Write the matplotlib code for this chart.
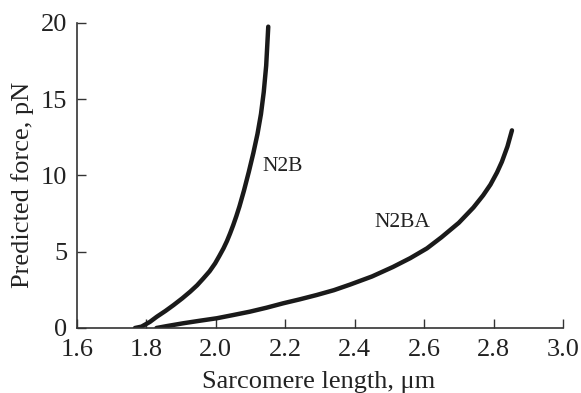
import matplotlib
matplotlib.use("Agg")
import matplotlib.pyplot as plt

# N2B curve
n2b_x = [1.767, 1.786, 1.810, 1.830, 1.855, 1.878, 1.903, 1.926, 1.946, 1.964, 1.982,
         1.998, 2.010, 2.022, 2.032, 2.041, 2.050, 2.059, 2.068, 2.081,
         2.095, 2.108, 2.120, 2.130, 2.138, 2.145, 2.151]
n2b_y = [0.0, 0.09, 0.40, 0.74, 1.12, 1.50, 1.94, 2.38, 2.80, 3.25, 3.72,
         4.24, 4.72, 5.22, 5.70, 6.20, 6.74, 7.33, 7.97, 9.01,
         10.24, 11.47, 12.73, 14.03, 15.47, 17.20, 19.76]

# N2BA curve
n2ba_x = [1.829, 1.860, 1.906, 1.955, 2.003, 2.050, 2.098, 2.146, 2.194, 2.242,
          2.290, 2.340, 2.387, 2.450, 2.510, 2.560, 2.608, 2.650, 2.700, 2.742,
          2.770, 2.791, 2.810, 2.824, 2.840, 2.853]
n2ba_y = [0.0, 0.13, 0.31, 0.48, 0.64, 0.85, 1.07, 1.33, 1.62, 1.88,
          2.16, 2.48, 2.85, 3.38, 4.00, 4.58, 5.22, 5.95, 6.90, 7.90,
          8.70, 9.40, 10.20, 10.90, 11.90, 12.96]

xticks = [1.6, 1.8, 2.0, 2.2, 2.4, 2.6, 2.8, 3.0]
yticks = [0, 5, 10, 15, 20]

plt.rcParams["font.family"] = ["Liberation Serif", "DejaVu Serif"]

fig = plt.figure(figsize=(5.81, 3.93), dpi=100)
ax = fig.add_axes([0.1325, 0.1654, 0.8365, 0.7761])

ax.plot(n2b_x, n2b_y, color="#1a1a1a", lw=3.2, solid_capstyle="round",
        solid_joinstyle="round")
ax.plot(n2ba_x, n2ba_y, color="#1a1a1a", lw=3.2, solid_capstyle="round",
        solid_joinstyle="round")

ax.text(2.133, 10.6, "N2B", fontsize=15.5, color="#222222", ha="left", va="center")
ax.text(2.538, 6.9, "N2BA", fontsize=15.5, color="#222222", ha="center", va="center")

ax.set_xlim(1.6, 3.0)
ax.set_ylim(0, 20)
ax.set_xticks(xticks)
ax.set_xticklabels([f"{t:.1f}" for t in xticks])
ax.set_yticks(yticks)

for s in ["top", "right"]:
    ax.spines[s].set_visible(False)
for s in ["left", "bottom"]:
    ax.spines[s].set_linewidth(1.2)
    ax.spines[s].set_color("#333333")

ax.tick_params(direction="in", length=6.5, width=1.0, color="#333333",
               labelsize=19, labelcolor="#222222")
ax.tick_params(axis="x", pad=8)
ax.tick_params(axis="y", pad=7)

ax.set_xlabel("Sarcomere length, μm", fontsize=19, color="#222222")
ax.set_ylabel("Predicted force, pN", fontsize=19, color="#222222")
ax.xaxis.set_label_coords(0.497, -0.14)
ax.yaxis.set_label_coords(-0.113, 0.47)
ax.yaxis.label.set_va("center")

fig.savefig("out.png", dpi=100)
